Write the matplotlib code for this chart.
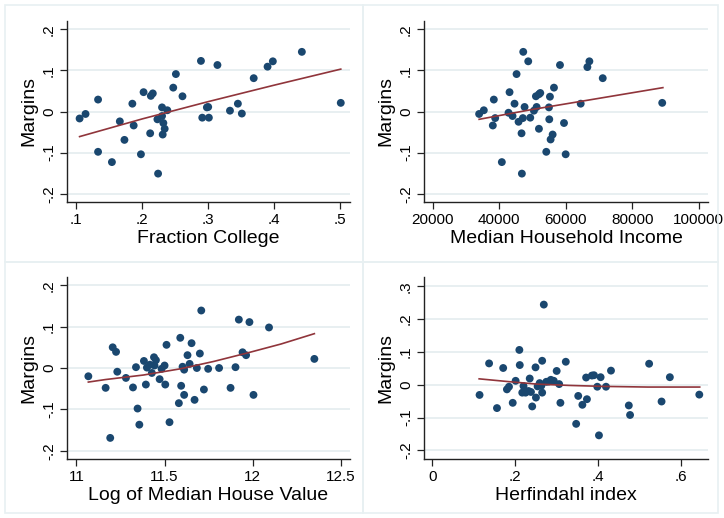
import numpy as np
import matplotlib
matplotlib.use("Agg")
import matplotlib.pyplot as plt

plt.rcParams['font.family'] = ['Liberation Sans', 'DejaVu Sans']

# panel 1: fraction college
college_x = [0.105, 0.114, 0.133, 0.133, 0.154, 0.166, 0.173, 0.185, 0.187, 0.198,
             0.202, 0.212, 0.213, 0.216, 0.223, 0.224, 0.230, 0.230, 0.232, 0.231,
             0.234, 0.238, 0.247, 0.251, 0.261, 0.289, 0.291, 0.298, 0.300, 0.301,
             0.314, 0.333, 0.345, 0.351, 0.369, 0.390, 0.398, 0.442, 0.501]
college_y = [-0.017, -0.006, 0.029, -0.098, -0.123, -0.024, -0.069, 0.019, -0.034, -0.104,
             0.047, -0.053, 0.038, 0.044, -0.019, -0.151, 0.010, -0.011, -0.028, -0.056,
             -0.042, 0.003, 0.058, 0.091, 0.037, 0.123, -0.015, 0.010, 0.011, -0.015,
             0.113, 0.002, 0.019, -0.005, 0.081, 0.109, 0.122, 0.145, 0.021]
college_fit_x = [0.105, 0.2, 0.3, 0.4, 0.501]
college_fit_y = [-0.061, -0.018, 0.024, 0.064, 0.103]

# panel 2: median household income
income_x = [33970, 35380, 38390, 38090, 38800, 40800, 42810, 43120, 44020, 44620,
            45230, 45830, 46730, 46830, 47130, 47240, 47640, 48740, 49350, 50450,
            51050, 51260, 51960, 51960, 52360, 54170, 54970, 55070, 55270, 55470,
            56080, 56480, 58290, 59500, 60000, 64520, 66530, 67130, 71150, 89040]
income_y = [-0.006, 0.003, 0.029, -0.034, -0.016, -0.123, -0.003, 0.047, -0.011, 0.019,
            0.091, -0.025, -0.053, -0.151, -0.016, 0.145, 0.011, 0.122, -0.015, 0.002,
            0.037, 0.011, -0.042, 0.042, 0.045, -0.098, 0.010, -0.019, 0.036, -0.068,
            -0.056, 0.058, 0.113, -0.028, -0.104, 0.019, 0.108, 0.122, 0.081, 0.021]
income_fit_x = [33970, 50000, 70000, 89240]
income_fit_y = [-0.019, 0.005, 0.032, 0.058]

# panel 3: log of median house value
house_x = [11.068, 11.166, 11.192, 11.206, 11.225, 11.232, 11.281, 11.321, 11.338, 11.347,
           11.357, 11.383, 11.394, 11.400, 11.417, 11.428, 11.440, 11.451, 11.443, 11.472,
           11.483, 11.500, 11.504, 11.511, 11.528, 11.581, 11.589, 11.594, 11.602, 11.611,
           11.611, 11.630, 11.642, 11.653, 11.670, 11.683, 11.700, 11.708, 11.723, 11.747,
           11.809, 11.874, 11.902, 11.921, 11.942, 11.962, 11.981, 12.004, 12.092, 12.349]
house_y = [-0.020, -0.048, -0.169, 0.050, 0.039, -0.009, -0.024, -0.047, 0.002, -0.098,
           -0.137, 0.017, -0.040, 0.001, 0.008, -0.012, 0.026, 0.019, 0.006, -0.027,
           -0.002, 0.006, -0.040, 0.056, -0.131, -0.085, 0.073, -0.043, 0.003, -0.004,
           -0.065, 0.031, 0.010, 0.060, -0.077, 0.000, 0.035, 0.139, -0.052, -0.002,
           0.000, -0.048, 0.002, 0.117, 0.038, 0.031, 0.111, -0.065, 0.098, 0.022]
house_fit_x = [11.068, 11.164, 11.38, 11.589, 11.78, 11.966, 12.16, 12.349]
house_fit_y = [-0.034, -0.028, -0.017, -0.002, 0.016, 0.036, 0.058, 0.083]

# panel 4: herfindahl index
herf_x = [0.114, 0.137, 0.156, 0.171, 0.180, 0.185, 0.194, 0.201, 0.210, 0.211,
          0.217, 0.220, 0.225, 0.232, 0.235, 0.238, 0.241, 0.249, 0.250, 0.254,
          0.259, 0.263, 0.265, 0.265, 0.269, 0.275, 0.281, 0.286, 0.293, 0.300,
          0.306, 0.309, 0.322, 0.347, 0.352, 0.362, 0.371, 0.373, 0.385, 0.390,
          0.398, 0.402, 0.406, 0.419, 0.431, 0.474, 0.477, 0.523, 0.553, 0.573, 0.644]
herf_y = [-0.031, 0.065, -0.071, 0.051, -0.014, -0.006, -0.055, 0.012, 0.106, 0.060,
          -0.024, -0.004, -0.024, -0.019, 0.019, -0.022, -0.066, 0.053, -0.039, -0.005,
          0.005, -0.003, -0.024, 0.073, 0.244, 0.009, 0.010, 0.015, 0.012, 0.042,
          0.002, -0.055, 0.070, -0.119, -0.034, -0.061, 0.022, -0.044, 0.028, 0.029,
          -0.006, -0.154, 0.023, -0.006, 0.043, -0.063, -0.092, 0.064, -0.051, 0.023, -0.030]
herf_fit_x = [0.113, 0.18, 0.252, 0.33, 0.413, 0.52, 0.645]
herf_fit_y = [0.018, 0.010, 0.002, -0.002, -0.005, -0.007, -0.007]

navy = '#1a476f'
maroon = '#90353b'
grid_c = '#e4ecef'

fig = plt.figure(figsize=(7.24, 5.18), dpi=100)

# panel frames (pixels)
W, H = 724, 518
for x0, y0, x1, y1 in [(5, 5, 363, 262), (363, 5, 718, 262), (5, 262, 363, 513), (363, 262, 718, 513)]:
    fig.add_artist(plt.Rectangle((x0 / W, 1 - y1 / H), (x1 - x0) / W, (y1 - y0) / H,
                                 fill=False, ec='#e8f0f2', lw=1.2, transform=fig.transFigure))


def panel(rect, x, y, fx, fy, xlim, ylim, xticks, xlabels, yticks, ylabels, xlabel):
    l, t, r, b = rect
    ax = fig.add_axes([l / W, 1 - b / H, (r - l) / W, (b - t) / H])
    ax.scatter(x, y, s=32, color=navy, edgecolors='none', zorder=3)
    ax.plot(fx, fy, color=maroon, lw=1.2, zorder=4)
    ax.set_xlim(xlim)
    ax.set_ylim(ylim)
    ax.set_xticks(xticks)
    ax.set_xticklabels(xlabels)
    ax.set_yticks(yticks)
    ax.set_yticklabels(ylabels, rotation=90, va='center')
    ax.yaxis.grid(True, color=grid_c, lw=1.2)
    ax.set_axisbelow(True)
    for s in ['top', 'right']:
        ax.spines[s].set_visible(False)
    for s in ['left', 'bottom']:
        ax.spines[s].set_color('#222222')
        ax.spines[s].set_linewidth(1.0)
    ax.tick_params(length=5, width=0.9, color='#222222', labelsize=11, pad=3)
    ax.set_xlabel(xlabel, fontsize=14, labelpad=2)
    ax.set_ylabel('Margins', fontsize=14, labelpad=3)
    return ax


panel((67, 21, 350, 202), college_x, college_y, college_fit_x, college_fit_y,
      (0.0859, 0.515), (-0.22, 0.22),
      [0.1, 0.2, 0.3, 0.4, 0.5], ['.1', '.2', '.3', '.4', '.5'],
      [-0.2, -0.1, 0, 0.1, 0.2], ['-.2', '-.1', '0', '.1', '.2'], 'Fraction College')
panel((424, 21, 708, 202), income_x, income_y, income_fit_x, income_fit_y,
      (17390, 102810), (-0.22, 0.22),
      [20000, 40000, 60000, 80000, 100000], ['20000', '40000', '60000', '80000', '100000'],
      [-0.2, -0.1, 0, 0.1, 0.2], ['-.2', '-.1', '0', '.1', '.2'], 'Median Household Income')
panel((67, 277, 350, 459), house_x, house_y, house_fit_x, house_fit_y,
      (10.947, 12.551), (-0.22, 0.22),
      [11, 11.5, 12, 12.5], ['11', '11.5', '12', '12.5'],
      [-0.2, -0.1, 0, 0.1, 0.2], ['-.2', '-.1', '0', '.1', '.2'], 'Log of Median House Value')
panel((424, 277, 708, 459), herf_x, herf_y, herf_fit_x, herf_fit_y,
      (-0.02, 0.665), (-0.226, 0.328),
      [0, 0.2, 0.4, 0.6], ['0', '.2', '.4', '.6'],
      [-0.2, -0.1, 0, 0.1, 0.2, 0.3], ['-.2', '-.1', '0', '.1', '.2', '.3'], 'Herfindahl index')

fig.savefig('out.png', dpi=100, facecolor='white')
